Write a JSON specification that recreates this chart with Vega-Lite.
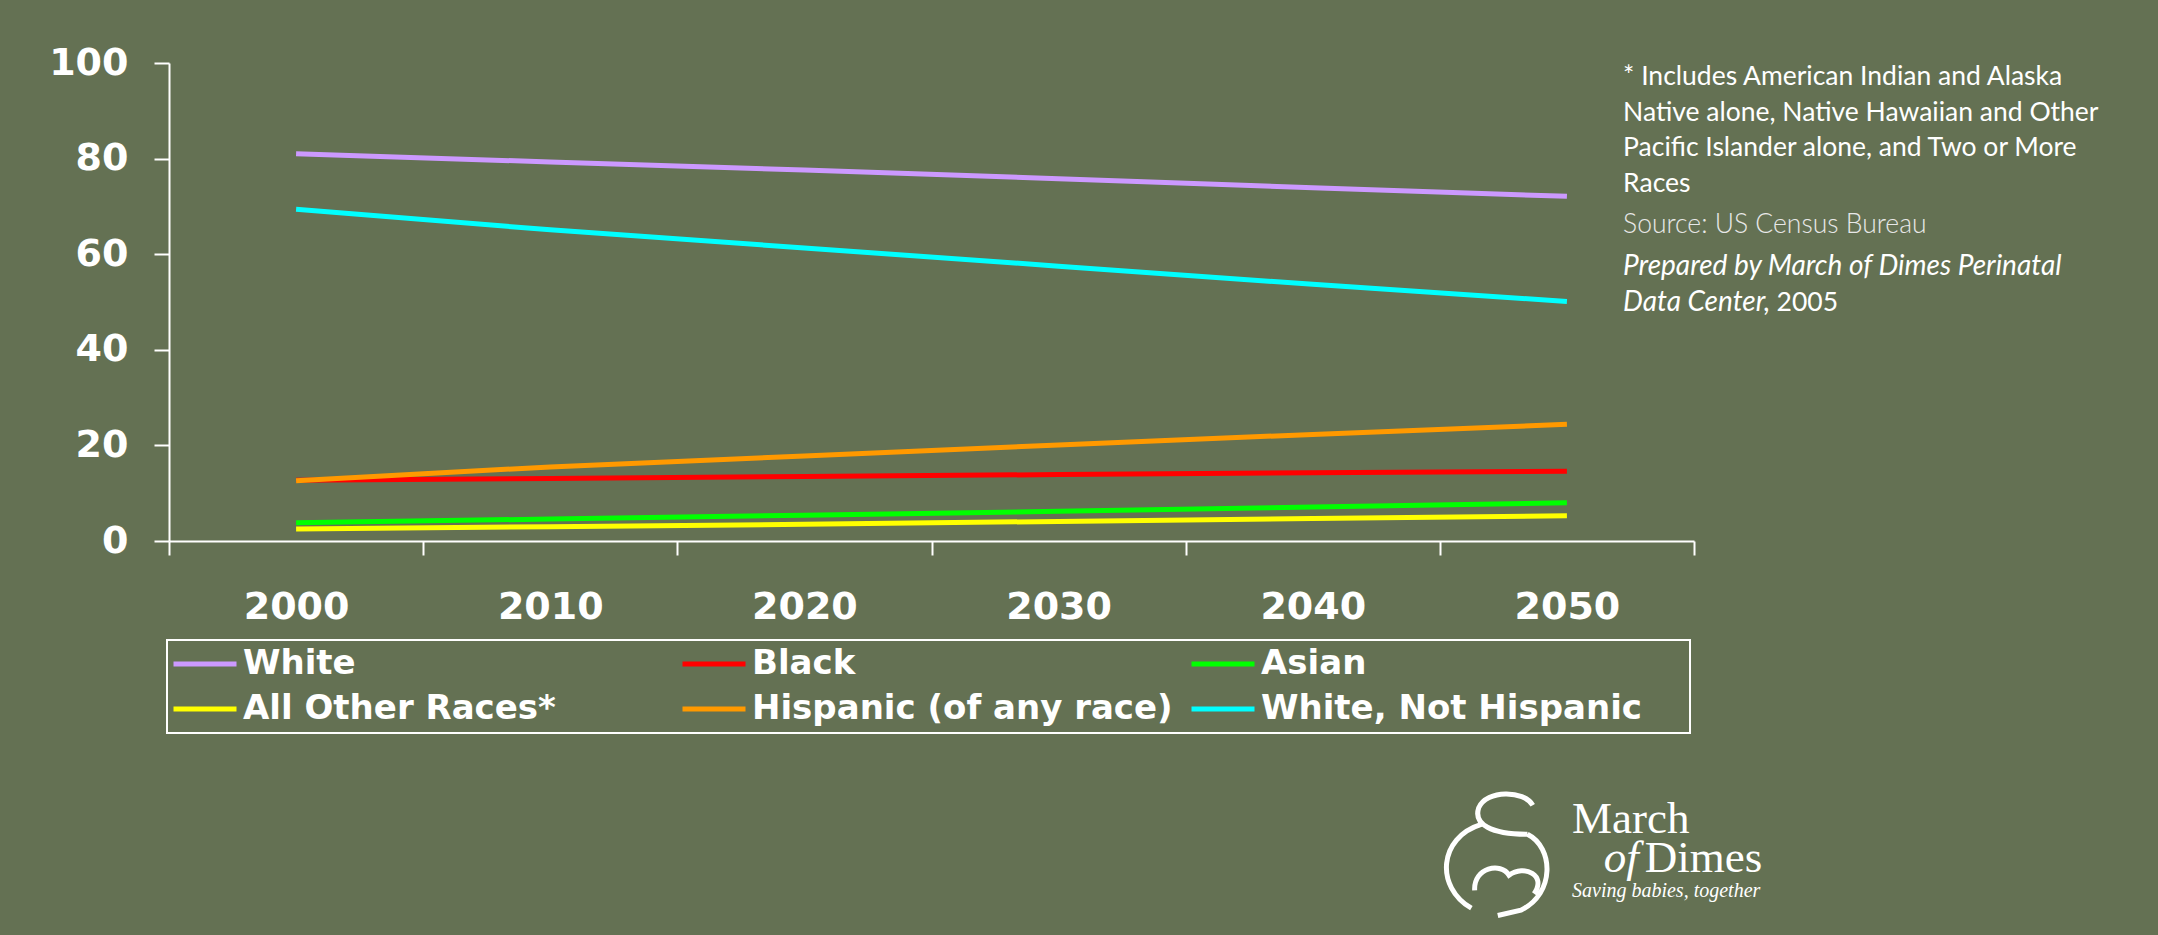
{
  "$schema": "https://vega.github.io/schema/vega-lite/v6.json",
  "autosize": {"type": "none"},
  "width": 1525,
  "height": 478,
  "padding": {"left": 169, "top": 63, "right": 464, "bottom": 394},
  "background": "#647153",
  "config": {
    "view": {"stroke": null},
    "axis": {
      "domainColor": "white", "domainWidth": 2, "tickColor": "white", "tickWidth": 2,
      "labelColor": "white", "labelFont": "DejaVu Sans", "labelFontWeight": "bold", "labelFontSize": 38,
      "grid": false, "title": null
    },
    "legend": {
      "orient": "none", "legendX": -2, "legendY": 577, "direction": "horizontal", "columns": 3,
      "gridAlign": "all", "columnPadding": 8, "rowPadding": 11, "padding": 7,
      "strokeColor": "white", "strokeWidth": 2,
      "symbolType": "M-3,0H3", "symbolSize": 441, "symbolOffset": 14, "symbolStrokeWidth": 5,
      "labelFont": "DejaVu Sans", "labelFontWeight": "bold", "labelFontSize": 34, "labelColor": "white",
      "labelOffset": 21, "labelLimit": 0
    }
  },
  "data": {
    "values": [
      {"year": "2000", "race": "White", "pct": 81.0},
      {"year": "2010", "race": "White", "pct": 79.3},
      {"year": "2020", "race": "White", "pct": 77.6},
      {"year": "2030", "race": "White", "pct": 75.8},
      {"year": "2040", "race": "White", "pct": 73.9},
      {"year": "2050", "race": "White", "pct": 72.1},
      {"year": "2000", "race": "Black", "pct": 12.7},
      {"year": "2010", "race": "Black", "pct": 13.1},
      {"year": "2020", "race": "Black", "pct": 13.5},
      {"year": "2030", "race": "Black", "pct": 13.9},
      {"year": "2040", "race": "Black", "pct": 14.3},
      {"year": "2050", "race": "Black", "pct": 14.6},
      {"year": "2000", "race": "Asian", "pct": 3.8},
      {"year": "2010", "race": "Asian", "pct": 4.6},
      {"year": "2020", "race": "Asian", "pct": 5.4},
      {"year": "2030", "race": "Asian", "pct": 6.2},
      {"year": "2040", "race": "Asian", "pct": 7.1},
      {"year": "2050", "race": "Asian", "pct": 8.0},
      {"year": "2000", "race": "All Other Races*", "pct": 2.5},
      {"year": "2010", "race": "All Other Races*", "pct": 3.0},
      {"year": "2020", "race": "All Other Races*", "pct": 3.5},
      {"year": "2030", "race": "All Other Races*", "pct": 4.1},
      {"year": "2040", "race": "All Other Races*", "pct": 4.7},
      {"year": "2050", "race": "All Other Races*", "pct": 5.3},
      {"year": "2000", "race": "Hispanic (of any race)", "pct": 12.6},
      {"year": "2010", "race": "Hispanic (of any race)", "pct": 15.5},
      {"year": "2020", "race": "Hispanic (of any race)", "pct": 17.8},
      {"year": "2030", "race": "Hispanic (of any race)", "pct": 20.1},
      {"year": "2040", "race": "Hispanic (of any race)", "pct": 22.3},
      {"year": "2050", "race": "Hispanic (of any race)", "pct": 24.4},
      {"year": "2000", "race": "White, Not Hispanic", "pct": 69.4},
      {"year": "2010", "race": "White, Not Hispanic", "pct": 65.1},
      {"year": "2020", "race": "White, Not Hispanic", "pct": 61.3},
      {"year": "2030", "race": "White, Not Hispanic", "pct": 57.5},
      {"year": "2040", "race": "White, Not Hispanic", "pct": 53.7},
      {"year": "2050", "race": "White, Not Hispanic", "pct": 50.1}
    ]
  },
  "layer": [
    {
      "mark": {"type": "line", "strokeWidth": 5, "strokeCap": "butt"},
      "encoding": {
        "x": {
          "field": "year", "type": "ordinal",
          "scale": {"type": "band", "paddingInner": 0, "paddingOuter": 0},
          "axis": {"tickBand": "extent", "tickSize": 14, "labelPadding": 33, "labelAngle": 0}
        },
        "y": {
          "field": "pct", "type": "quantitative",
          "scale": {"domain": [0, 100], "nice": false, "zero": true},
          "axis": {"values": [0, 20, 40, 60, 80, 100], "tickSize": 15, "labelPadding": 26}
        },
        "color": {
          "field": "race", "type": "nominal",
          "scale": {
            "domain": ["White", "Black", "Asian", "All Other Races*", "Hispanic (of any race)", "White, Not Hispanic"],
            "range": ["#CC99FF", "#FF0000", "#00FF00", "#FFFF00", "#FF9900", "#00FFFF"]
          },
          "legend": {"title": "\u00a0", "titleOrient": "right", "titlePadding": 41, "titleFontSize": 8}
        }
      }
    },
    {
      "data": {"values": [{}]},
      "mark": {"type": "text", "align": "left", "baseline": "alphabetic", "font": "Lato", "fontSize": 26.5, "color": "white", "lineHeight": 35.7,
        "text": ["* Includes American Indian and Alaska", "Native alone, Native Hawaiian and Other", "Pacific Islander alone, and Two or More", "Races"]},
      "encoding": {
        "x": {"datum": "2050", "type": "ordinal", "bandPosition": 0.721},
        "y": {"datum": 95.4, "type": "quantitative"}
      }
    },
    {
      "data": {"values": [{}]},
      "mark": {"type": "text", "align": "left", "baseline": "alphabetic", "font": "Lato", "fontWeight": 300, "fontSize": 26.5, "color": "#E8E8E8",
        "text": "Source: US Census Bureau"},
      "encoding": {
        "x": {"datum": "2050", "type": "ordinal", "bandPosition": 0.721},
        "y": {"datum": 64.44, "type": "quantitative"}
      }
    },
    {
      "data": {"values": [{}]},
      "mark": {"type": "text", "align": "left", "baseline": "alphabetic", "font": "Lato", "fontStyle": "italic", "fontSize": 28, "color": "white", "lineHeight": 36,
        "text": ["Prepared by March of Dimes Perinatal", "Data Center,"]},
      "encoding": {
        "x": {"datum": "2050", "type": "ordinal", "bandPosition": 0.721},
        "y": {"datum": 55.65, "type": "quantitative"}
      }
    },
    {
      "data": {"values": [{}]},
      "mark": {"type": "text", "align": "left", "baseline": "alphabetic", "font": "Lato", "fontSize": 26.5, "color": "white", "text": "2005"},
      "encoding": {
        "x": {"datum": "2050", "type": "ordinal", "bandPosition": 1.325},
        "y": {"datum": 48.1, "type": "quantitative"}
      }
    },
    {
      "data": {"values": [{}]},
      "mark": {"type": "point", "filled": false, "stroke": "white", "strokeWidth": 5, "opacity": 1, "size": 17424,
        "shape": "M0.58,-0.74 C0.45,-0.97 -0.12,-0.98 -0.24,-0.7 C-0.32,-0.45 -0.05,-0.3 0.5,-0.3 M-0.2,-0.45 C-0.85,-0.25 -0.9,0.5 -0.35,0.82 M0.5,-0.3 C0.9,-0.1 0.92,0.6 0.4,0.85 L0.05,0.93 M-0.3,0.55 C-0.32,0.2 0.1,0.12 0.22,0.32 C0.45,0.15 0.8,0.32 0.6,0.6"},
      "encoding": {
        "x": {"datum": "2050", "type": "ordinal", "bandPosition": 0.215},
        "y": {"datum": -65.5, "type": "quantitative"}
      }
    },
    {
      "data": {"values": [{}]},
      "mark": {"type": "text", "align": "left", "baseline": "alphabetic", "font": "Liberation Serif", "fontSize": 45, "color": "white", "text": "March"},
      "encoding": {
        "x": {"datum": "2050", "type": "ordinal", "bandPosition": 0.52},
        "y": {"datum": -61.1, "type": "quantitative"}
      }
    },
    {
      "data": {"values": [{}]},
      "mark": {"type": "text", "align": "left", "baseline": "alphabetic", "font": "Liberation Serif", "fontStyle": "italic", "fontSize": 45, "color": "white", "text": "of"},
      "encoding": {
        "x": {"datum": "2050", "type": "ordinal", "bandPosition": 0.645},
        "y": {"datum": -69.25, "type": "quantitative"}
      }
    },
    {
      "data": {"values": [{}]},
      "mark": {"type": "text", "align": "left", "baseline": "alphabetic", "font": "Liberation Serif", "fontSize": 45, "color": "white", "text": "Dimes"},
      "encoding": {
        "x": {"datum": "2050", "type": "ordinal", "bandPosition": 0.806},
        "y": {"datum": -69.25, "type": "quantitative"}
      }
    },
    {
      "data": {"values": [{}]},
      "mark": {"type": "text", "align": "left", "baseline": "alphabetic", "font": "Liberation Serif", "fontStyle": "italic", "fontSize": 20, "color": "white", "text": "Saving babies, together"},
      "encoding": {
        "x": {"datum": "2050", "type": "ordinal", "bandPosition": 0.52},
        "y": {"datum": -74.5, "type": "quantitative"}
      }
    }
  ]
}
